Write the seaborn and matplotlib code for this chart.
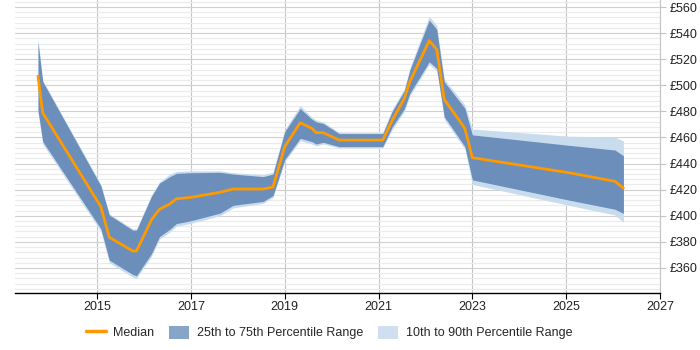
import numpy as np
import pandas as pd
import matplotlib
matplotlib.use("Agg")
import matplotlib.pyplot as plt
from matplotlib.lines import Line2D
from matplotlib.patches import Patch
from matplotlib.ticker import MultipleLocator, FuncFormatter
import seaborn as sns

# ---------------- DATA ----------------

dates = [2013.74, 2013.84, 2015.08, 2015.26, 2015.76, 2015.84, 2016.16, 2016.33,
         2016.55, 2016.69, 2016.98, 2017.62, 2017.90, 2018.54, 2018.75, 2019.00,
         2019.33, 2019.58, 2019.67, 2019.82, 2020.16, 2021.09, 2021.29, 2021.55,
         2021.67, 2022.08, 2022.24, 2022.40, 2022.84, 2023.00, 2025.06, 2026.04,
         2026.22]

median = [507, 479, 407, 383.5, 373, 373, 397, 405,
          409, 413, 414, 418, 420.5, 420.5, 422, 453,
          471.3, 467, 463.7, 463.7, 458, 458, 473, 490,
          503, 534.2, 527.6, 489.3, 467, 444.5, 433, 426.4,
          421.2]

p25 = [481, 457, 390, 366, 355, 354, 371, 384,
       389.6, 394, 396, 402, 408, 411, 415.5, 443,
       459.4, 456.8, 455, 456.3, 453, 453, 468, 482,
       494, 518, 513, 476, 453, 427.5, 412, 405,
       401.8]

p75 = [533, 503, 423, 400.6, 389, 389, 415, 425,
       430, 432.5, 433, 433.3, 432, 430, 432, 464.5,
       482.2, 474, 472, 470.8, 463, 463, 480, 496,
       512, 550, 543, 502.8, 482.4, 462, 454, 450.4,
       446]

p10 = [479, 455, 388, 364, 353, 352, 369, 382,
       387.5, 392, 394, 400, 406, 409.5, 414, 441.5,
       457.5, 455, 453.5, 455, 452, 452, 466, 480,
       492, 516, 511, 474, 451, 424, 408, 400.6,
       395]

p90 = [536, 504, 424, 401.5, 390, 390, 416, 426,
       432, 434, 434.5, 434.5, 433, 431.5, 433.5, 466,
       484.5, 475.5, 473.5, 472, 464, 464, 481.5, 497.5,
       513.5, 553, 546, 505, 485, 466.5, 461, 460.4,
       457.3]

year_ticks = [2015, 2017, 2019, 2021, 2023, 2025, 2027]
pay_ticks = [360, 380, 400, 420, 440, 460, 480, 500, 520, 540, 560]

df = pd.DataFrame({"date": dates, "median": median,
                   "p10": p10, "p25": p25, "p75": p75, "p90": p90})

# ---------------- PLOT ----------------

sns.set_style("white")
plt.rcParams["font.family"] = ["Liberation Sans", "DejaVu Sans"]

fig = plt.figure(figsize=(7, 3.5), dpi=100)
ax = fig.add_axes([15 / 700, 57 / 350, 645 / 700, 293 / 350])

light = "#c9dcee"
dark = "#6b8fba"
orange = "#ff9900"

ax.fill_between(df["date"], df["p10"], df["p90"], color=light, lw=0, zorder=2)
ax.fill_between(df["date"], df["p25"], df["p75"], color=dark, lw=0, zorder=3)
sns.lineplot(data=df, x="date", y="median", color=orange, lw=2, ax=ax, zorder=4)

ax.set_xlim(2013.25, 2027)
ax.set_ylim(340.8, 565.4)

ax.set_xticks(year_ticks)
ax.set_xticklabels([str(y) for y in year_ticks])
ax.set_yticks(pay_ticks)
ax.yaxis.set_minor_locator(MultipleLocator(4))
ax.yaxis.set_major_formatter(FuncFormatter(lambda v, p: "£%d" % v))
ax.yaxis.tick_right()

ax.grid(axis="x", which="major", color="#c4c4c4", lw=0.8, zorder=0)
ax.grid(axis="y", which="major", color="#d0d0d0", lw=0.8, zorder=0)
ax.grid(axis="y", which="minor", color="#ebebeb", lw=0.8, zorder=0)
ax.set_axisbelow(True)

ax.tick_params(axis="y", which="major", right=True, length=4, color="#c4c4c4",
               labelsize=9, labelcolor="#222222", pad=3)
ax.tick_params(axis="y", which="minor", right=False, left=False)
ax.tick_params(axis="x", bottom=True, length=4, color="black",
               labelsize=9, labelcolor="#222222", pad=2)

for s in ["top", "left"]:
    ax.spines[s].set_visible(False)
ax.spines["right"].set_color("#c4c4c4")
ax.spines["bottom"].set_color("black")
ax.spines["bottom"].set_linewidth(1)
ax.set_xlabel("")
ax.set_ylabel("")

handles = [Line2D([0], [0], color=orange, lw=2.5),
           Patch(facecolor="#87a5c8", edgecolor="none"),
           Patch(facecolor="#cfdfef", edgecolor="none")]
labels = ["Median", "25th to 75th Percentile Range", "10th to 90th Percentile Range"]
fig.legend(handles, labels, loc="center", bbox_to_anchor=(0.47, 0.05), ncol=3,
           frameon=False, fontsize=9, handlelength=1.6, handleheight=1.2,
           columnspacing=1.2, handletextpad=0.6)

plt.savefig("out.png", dpi=100)
